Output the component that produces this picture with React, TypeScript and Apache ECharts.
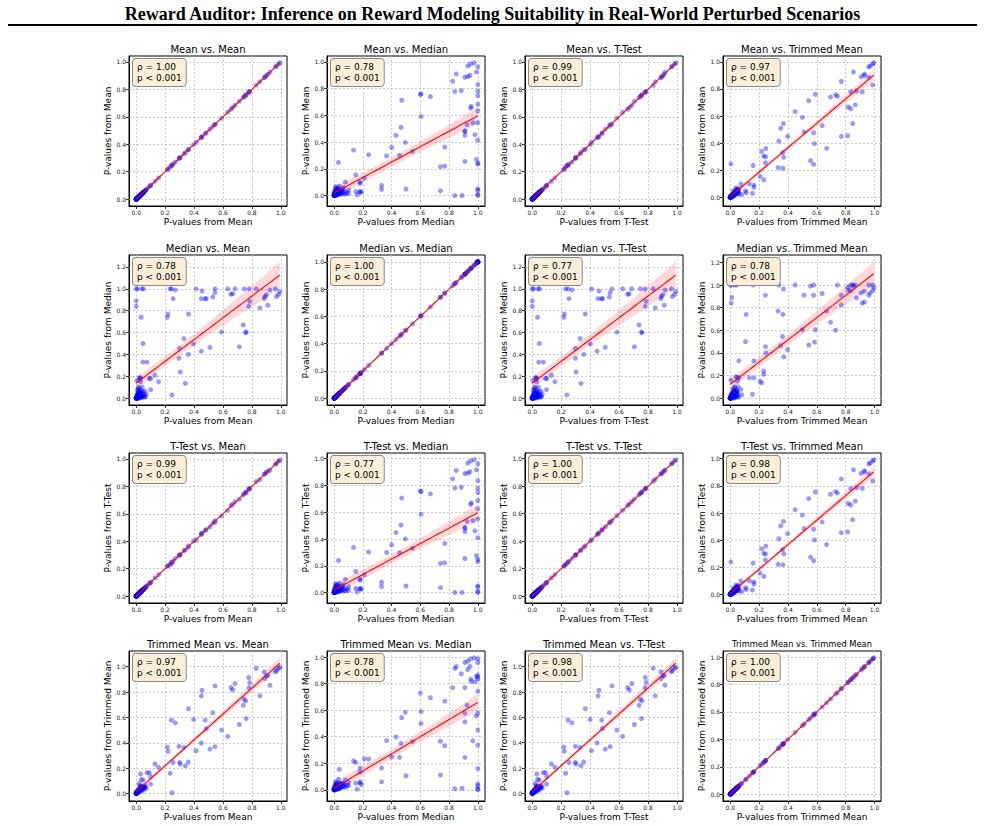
import React, { useEffect, useRef } from "react";
import * as echarts from "echarts";

const TITLE = "Reward Auditor: Inference on Reward Modeling Suitability in Real-World Perturbed Scenarios";
const METHODS = ["Mean", "Median", "T-Test", "Trimmed Mean"];

// p-values per method (one entry per perturbed scenario, same order in every array)
const MEAN_P = [
  0.993, 0.985, 0.970, 0.963, 0.925, 0.910, 0.900, 0.890, 0.885, 0.855,
  0.830, 0.785, 0.778, 0.780, 0.760, 0.757, 0.747, 0.740, 0.713, 0.683,
  0.667, 0.655, 0.633, 0.590, 0.545, 0.545, 0.530, 0.510, 0.484, 0.477,
  0.455, 0.450, 0.450, 0.415, 0.397, 0.362, 0.360, 0.340, 0.330, 0.300,
  0.296, 0.305, 0.270, 0.255, 0.247, 0.243, 0.235, 0.220, 0.215, 0.155,
  0.130, 0.100, 0.100, 0.090, 0.075, 0.048, 0.046, 0.048, 0.050, 0.040,
  0.035, 0.030, 0.025, 0.010, 0.000, 0.000, 0.000, 0.005, 0.030, 0.025,
  0.030, 0.010, 0.020,
  0.000, 0.000, 0.000, 0.001, 0.001, 0.002, 0.002, 0.003, 0.004, 0.005,
  0.006, 0.008, 0.010, 0.011, 0.012, 0.014, 0.015, 0.016, 0.018, 0.020,
  0.022, 0.024, 0.026, 0.028, 0.030, 0.032, 0.035, 0.038, 0.042, 0.045,
  0.050, 0.055, 0.060, 0.065, 0.070,
  0.000, 0.000, 0.001, 0.002, 0.003, 0.004, 0.005, 0.006, 0.007, 0.008,
  0.009, 0.010, 0.012, 0.013, 0.015, 0.017, 0.019, 0.021, 0.023, 0.027,
  0.031, 0.036, 0.040, 0.048, 0.058,
];

const MEDIAN_P = [
  0.975, 0.950, 0.930, 1.000, 0.990, 0.850, 0.945, 0.930, 0.910, 0.825,
  1.000, 0.885, 0.840, 1.000, 0.605, 0.600, 1.000, 0.670, 0.470, 1.000,
  0.955, 0.950, 1.000, 0.605, 1.000, 0.965, 0.925, 0.465, 0.910, 0.910,
  0.980, 0.430, 0.910, 1.000, 0.495, 0.770, 0.400, 0.135, 0.545, 0.455,
  0.365, 0.240, 0.990, 0.910, 0.030, 1.000, 1.000, 0.770, 0.740, 0.150,
  0.210, 0.078, 0.180, 0.180, 0.330, 0.500, 0.330, 0.030, 1.000, 1.000,
  0.740, 0.150, 0.190, 1.000, 1.000, 0.890, 0.840, 0.160, 0.180, 0.180,
  0.035, 0.070, 0.030,
  0.000, 0.000, 0.002, 0.000, 0.004, 0.001, 0.010, 0.000, 0.006, 0.020,
  0.003, 0.030, 0.012, 0.050, 0.080, 0.005, 0.100, 0.040, 0.015, 0.060,
  0.025, 0.090, 0.010, 0.045, 0.070, 0.020, 0.055, 0.015, 0.100, 0.008,
  0.040, 0.025, 0.065, 0.010, 0.035,
  0.000, 0.001, 0.000, 0.003, 0.000, 0.012, 0.002, 0.025, 0.004, 0.000,
  0.035, 0.006, 0.018, 0.000, 0.045, 0.008, 0.003, 0.030, 0.012, 0.000,
  0.050, 0.020, 0.008, 0.060, 0.015,
];

const TTEST_P = [
  0.992, 0.984, 0.968, 0.962, 0.918, 0.912, 0.903, 0.892, 0.889, 0.850,
  0.836, 0.787, 0.781, 0.779, 0.755, 0.758, 0.747, 0.738, 0.706, 0.688,
  0.670, 0.659, 0.625, 0.585, 0.551, 0.538, 0.533, 0.505, 0.485, 0.480,
  0.461, 0.448, 0.455, 0.410, 0.401, 0.367, 0.356, 0.337, 0.331, 0.298,
  0.299, 0.303, 0.275, 0.254, 0.240, 0.248, 0.231, 0.222, 0.218, 0.157,
  0.133, 0.099, 0.101, 0.092, 0.077, 0.049, 0.045, 0.046, 0.051, 0.041,
  0.037, 0.031, 0.026, 0.010, 0.000, 0.001, 0.000, 0.005, 0.030, 0.026,
  0.032, 0.011, 0.021,
  0.000, 0.000, 0.000, 0.001, 0.001, 0.002, 0.002, 0.003, 0.004, 0.005,
  0.006, 0.008, 0.010, 0.011, 0.012, 0.014, 0.016, 0.016, 0.018, 0.020,
  0.022, 0.025, 0.026, 0.029, 0.030, 0.032, 0.036, 0.038, 0.043, 0.045,
  0.050, 0.055, 0.061, 0.065, 0.070,
  0.000, 0.000, 0.001, 0.002, 0.003, 0.004, 0.005, 0.006, 0.007, 0.008,
  0.009, 0.010, 0.012, 0.013, 0.015, 0.017, 0.019, 0.021, 0.024, 0.027,
  0.031, 0.036, 0.041, 0.048, 0.058,
];

const TRIMMED_P = [
  0.995, 0.987, 0.970, 0.960, 0.854, 0.930, 0.930, 0.907, 0.960, 0.770,
  0.987, 0.875, 0.915, 0.835, 0.590, 0.730, 0.743, 0.695, 0.544, 0.867,
  0.817, 0.835, 0.450, 0.500, 0.849, 0.369, 0.637, 0.350, 0.512, 0.578,
  0.814, 0.398, 0.770, 0.337, 0.584, 0.668, 0.247, 0.218, 0.363, 0.245,
  0.371, 0.232, 0.557, 0.244, 0.005, 0.578, 0.159, 0.332, 0.366, 0.207,
  0.233, 0.074, 0.133, 0.164, 0.164, 0.106, 0.060, 0.020, 0.045, 0.030,
  0.111, 0.050, 0.040, 0.008, 0.002, 0.012, 0.007, 0.005, 0.050, 0.061,
  0.154, 0.024, 0.080,
  0.000, 0.000, 0.000, 0.001, 0.002, 0.001, 0.004, 0.002, 0.003, 0.006,
  0.005, 0.010, 0.008, 0.015, 0.020, 0.010, 0.030, 0.012, 0.020, 0.025,
  0.018, 0.035, 0.030, 0.045, 0.040, 0.028, 0.050, 0.035, 0.055, 0.042,
  0.048, 0.052, 0.045, 0.060, 0.040,
  0.000, 0.000, 0.001, 0.002, 0.002, 0.006, 0.004, 0.010, 0.005, 0.006,
  0.015, 0.008, 0.012, 0.010, 0.020, 0.014, 0.012, 0.025, 0.020, 0.022,
  0.035, 0.030, 0.032, 0.045, 0.050,
];

const RHO_LABELS = [
  ["1.00", "0.78", "0.99", "0.97"],
  ["0.78", "1.00", "0.77", "0.78"],
  ["0.99", "0.77", "1.00", "0.98"],
  ["0.97", "0.78", "0.98", "1.00"],
];
const P_LABEL = "p < 0.001";

const VALUES_BY_METHOD = [MEAN_P, MEDIAN_P, TTEST_P, TRIMMED_P];

// layout (pixels)
const COL_LEFT = [129, 327, 525, 723];
const ROW_TOP = [56, 255, 453, 651];
const AX_W = 158;
const AX_H = 150;
const FONT = '"DejaVu Sans", sans-serif';

function regression(xs: number[], ys: number[]) {
  const n = Math.min(xs.length, ys.length);
  let mx = 0, my = 0;
  for (let i = 0; i < n; i++) { mx += xs[i]; my += ys[i]; }
  mx /= n; my /= n;
  let sxx = 0, sxy = 0;
  for (let i = 0; i < n; i++) {
    sxx += (xs[i] - mx) ** 2;
    sxy += (xs[i] - mx) * (ys[i] - my);
  }
  const b = sxy / sxx;
  const a = my - b * mx;
  let sse = 0;
  for (let i = 0; i < n; i++) sse += (ys[i] - a - b * xs[i]) ** 2;
  const s = Math.sqrt(Math.max(sse, 0) / (n - 2));
  const t = 1.98;
  let x0 = Infinity, x1 = -Infinity;
  for (let i = 0; i < n; i++) { x0 = Math.min(x0, xs[i]); x1 = Math.max(x1, xs[i]); }
  const K = 60;
  const pts: number[][] = [];
  for (let k = 0; k <= K; k++) {
    const x = x0 + ((x1 - x0) * k) / K;
    const yh = a + b * x;
    const se = s * Math.sqrt(1 / n + (x - mx) ** 2 / sxx);
    pts.push([x, yh, yh - t * se, yh + t * se]);
  }
  return { pts, n };
}

function ticksFor(lo: number, hi: number) {
  const out: number[] = [];
  const k0 = Math.ceil(lo / 0.2 - 1e-9);
  const k1 = Math.floor(hi / 0.2 + 1e-9);
  for (let k = k0; k <= k1; k++) out.push(Math.round(k * 2) / 10);
  return out;
}

function buildOption() {
  const grid: any[] = [];
  const xAxis: any[] = [];
  const yAxis: any[] = [];
  const series: any[] = [];
  const graphic: any[] = [];

  graphic.push({
    type: "text",
    x: 492.5,
    y: 14,
    z: 100,
    style: {
      text: TITLE,
      font: 'bold 18px "Liberation Serif", serif',
      fill: "#000",
      textAlign: "center",
      textVerticalAlign: "middle",
      align: "center",
      verticalAlign: "middle",
    },
  });
  graphic.push({
    type: "line",
    z: 100,
    shape: { x1: 8, y1: 25, x2: 977, y2: 25 },
    style: { stroke: "#000", lineWidth: 2 },
  });

  for (let r = 0; r < 4; r++) {
    for (let c = 0; c < 4; c++) {
      const i = r * 4 + c;
      const xs = VALUES_BY_METHOD[c];
      const ys = VALUES_BY_METHOD[r];
      const n = Math.min(xs.length, ys.length);
      const pts: number[][] = [];
      for (let k = 0; k < n; k++) pts.push([xs[k], ys[k]]);
      const reg = regression(xs, ys);

      let xlo = Infinity, xhi = -Infinity, ylo = Infinity, yhi = -Infinity;
      for (const p of pts) {
        xlo = Math.min(xlo, p[0]); xhi = Math.max(xhi, p[0]);
        ylo = Math.min(ylo, p[1]); yhi = Math.max(yhi, p[1]);
      }
      for (const q of reg.pts) { ylo = Math.min(ylo, q[2]); yhi = Math.max(yhi, q[3]); }
      const xpad = (xhi - xlo) * 0.05;
      const ypad = (yhi - ylo) * 0.05;
      const xmin = xlo - xpad, xmax = xhi + xpad;
      const ymin = ylo - ypad, ymax = yhi + ypad;
      const xt = ticksFor(xmin, xmax);
      const yt = ticksFor(ymin, ymax);

      const left = COL_LEFT[c];
      const top = ROW_TOP[r];
      grid.push({
        left, top, width: AX_W, height: AX_H,
        show: true, borderColor: "#000", borderWidth: 1, backgroundColor: "transparent",
        containLabel: false,
      });

      const axisCommon = {
        type: "value",
        gridIndex: i,
        splitLine: { show: false },
        axisLine: { show: true, onZero: false, lineStyle: { color: "#000", width: 1 } },
        nameLocation: "middle",
        nameTextStyle: { fontFamily: FONT, fontSize: 9, color: "#000" },
      };
      xAxis.push({
        ...axisCommon,
        min: xmin, max: xmax,
        name: "P-values from " + METHODS[c],
        nameGap: 11,
        axisTick: { show: true, length: 3, inside: false, customValues: xt, lineStyle: { color: "#000", width: 0.8 } },
        axisLabel: {
          customValues: xt, fontSize: 6, color: "#222", fontFamily: FONT, margin: 3,
          formatter: (v: number) => v.toFixed(1),
        },
      });
      yAxis.push({
        ...axisCommon,
        min: ymin, max: ymax,
        name: "P-values from " + METHODS[r],
        nameGap: 14,
        axisTick: { show: true, length: 3, inside: false, customValues: yt, lineStyle: { color: "#000", width: 0.8 } },
        axisLabel: {
          customValues: yt, fontSize: 6, color: "#222", fontFamily: FONT, margin: 3,
          formatter: (v: number) => v.toFixed(1),
        },
      });

      const band = reg.pts;
      series.push({
        type: "custom",
        xAxisIndex: i,
        yAxisIndex: i,
        z: 1,
        silent: true,
        data: [[(xmin + xmax) / 2, (ymin + ymax) / 2]],
        renderItem: (_p: any, api: any) => {
          const poly: number[][] = [];
          for (const q of band) poly.push(api.coord([q[0], q[3]]));
          for (let k = band.length - 1; k >= 0; k--) poly.push(api.coord([band[k][0], band[k][2]]));
          return {
            type: "polygon",
            shape: { points: poly },
            style: { fill: "rgba(255,0,0,0.15)", stroke: "none" },
          };
        },
      });
      series.push({
        type: "scatter",
        xAxisIndex: i,
        yAxisIndex: i,
        z: 3,
        silent: true,
        data: pts,
        symbolSize: 5,
        itemStyle: { color: "rgba(0,0,255,0.5)" },
        markLine: {
          silent: true,
          z: 1,
          symbol: ["none", "none"],
          label: { show: false },
          lineStyle: { color: "#bdbdbd", type: [2, 2], width: 0.8 },
          data: [
            ...xt.map((v) => ({ xAxis: v })),
            ...yt.map((v) => ({ yAxis: v })),
          ],
        },
      });
      series.push({
        type: "line",
        xAxisIndex: i,
        yAxisIndex: i,
        z: 4,
        silent: true,
        symbol: "none",
        data: band.map((q) => [q[0], q[1]]),
        lineStyle: { color: "#ff0000", width: 1.1 },
      });

      const title = METHODS[r] + " vs. " + METHODS[c];
      graphic.push({
        type: "text",
        x: left + AX_W / 2,
        y: top - 7,
        z: 100,
        style: {
          text: title,
          font: `${title.length > 25 ? 8.3 : 10}px ${FONT}`,
          fill: "#000",
          textAlign: "center",
          textVerticalAlign: "middle",
          align: "center",
          verticalAlign: "middle",
        },
      });
      graphic.push({
        type: "text",
        x: left + 4,
        y: top + 3,
        z: 100,
        style: {
          text: "\u03c1 = " + RHO_LABELS[r][c] + "\n" + P_LABEL,
          font: `9px ${FONT}`,
          fill: "#000",
          lineHeight: 10.5,
          textAlign: "left",
          textVerticalAlign: "top",
          align: "left",
          verticalAlign: "top",
          backgroundColor: "#faeed9",
          borderColor: "#8a8a8a",
          borderWidth: 1,
          borderRadius: 3,
          padding: [3, 4, 3, 4],
        },
      });
    }
  }

  return {
    animation: false,
    backgroundColor: "#ffffff",
    grid,
    xAxis,
    yAxis,
    series,
    graphic,
  };
}

export default function App() {
  const ref = useRef<HTMLDivElement>(null);
  useEffect(() => {
    if (!ref.current) return;
    const chart = echarts.init(ref.current, undefined, { renderer: "svg" });
    chart.setOption(buildOption() as any);
    return () => chart.dispose();
  }, []);
  return (
    <div
      ref={ref}
      style={{ position: "absolute", left: 0, top: 0, width: 985, height: 826, background: "#fff" }}
    />
  );
}
